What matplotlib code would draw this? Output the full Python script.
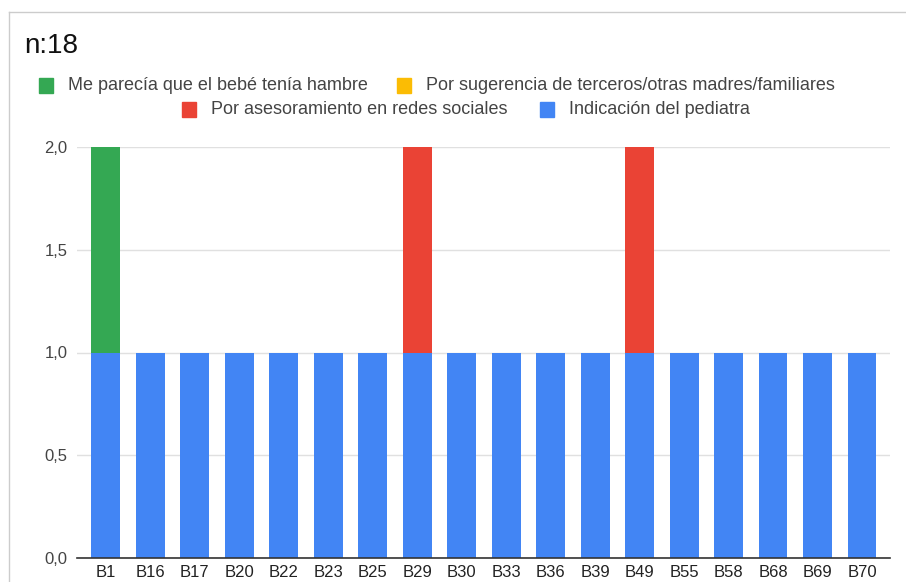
import matplotlib
matplotlib.use('Agg')
import matplotlib.pyplot as plt
import numpy as np
from matplotlib.patches import Rectangle
from matplotlib.lines import Line2D

plt.rcParams['font.family'] = ['Liberation Sans', 'DejaVu Sans']

# Data
categories = ['B1', 'B16', 'B17', 'B20', 'B22', 'B23', 'B25', 'B29', 'B30',
              'B33', 'B36', 'B39', 'B49', 'B55', 'B58', 'B68', 'B69', 'B70']
pediatra = [1, 1, 1, 1, 1, 1, 1, 1, 1, 1, 1, 1, 1, 1, 1, 1, 1, 1]
redes = [0, 0, 0, 0, 0, 0, 0, 1, 0, 0, 0, 0, 1, 0, 0, 0, 0, 0]
terceros = [0] * 18
hambre = [1, 0, 0, 0, 0, 0, 0, 0, 0, 0, 0, 0, 0, 0, 0, 0, 0, 0]

series_names = ['Me parecía que el bebé tenía hambre',
                'Por sugerencia de terceros/otras madres/familiares',
                'Por asesoramiento en redes sociales',
                'Indicación del pediatra']
colors = ['#34a853', '#fbbc04', '#ea4335', '#4285f4']

fig = plt.figure(figsize=(9.06, 5.82), dpi=100)
W, H = 906, 582
ax = fig.add_axes([77 / W, 1 - 558 / H, (890 - 77) / W, (558 - 147) / H])

x = np.arange(len(categories))
bw = 0.65
# stacked bottom-up: pediatra, redes, terceros, hambre
stack = [(pediatra, colors[3]), (redes, colors[2]), (terceros, colors[1]), (hambre, colors[0])]
bottom = np.zeros(len(categories))
for vals, c in stack:
    vals = np.array(vals, dtype=float)
    ax.bar(x, vals, bw, bottom=bottom, color=c, zorder=2)
    bottom += vals

ax.set_xlim(-0.65, len(categories) - 1 + 0.63)
ax.set_ylim(0, 2)
ax.set_yticks([0, 0.5, 1.0, 1.5, 2.0])
ax.set_yticklabels(['0,0', '0,5', '1,0', '1,5', '2,0'], color='#444444', fontsize=12)
ax.set_xticks(x)
ax.set_xticklabels(categories, color='#222222', fontsize=12)
ax.tick_params(axis='y', length=0, pad=7)
ax.tick_params(axis='x', length=0, pad=5)
ax.grid(axis='y', color='#e0e0e0', linewidth=1, zorder=0)
for s in ['top', 'right', 'left']:
    ax.spines[s].set_visible(False)
ax.spines['bottom'].set_color('#333333')
ax.spines['bottom'].set_linewidth(1.2)

# card border
fig.add_artist(Line2D([9 / W, 1], [1 - 12 / H, 1 - 12 / H], color='#cccccc', lw=1, transform=fig.transFigure))
fig.add_artist(Line2D([9 / W, 9 / W], [0, 1 - 12 / H], color='#cccccc', lw=1, transform=fig.transFigure))

fig.text(24 / W, 1 - 46 / H, 'n:18', fontsize=20, color='#111111', va='center', ha='left')

# legend, two centred rows
legend_items = [(39, 86, 0), (397, 86, 1), (182, 110, 2), (540, 110, 3)]
for lx, ly, i in legend_items:
    fig.add_artist(Rectangle((lx / W, 1 - (ly + 7) / H), 14 / W, 15 / H,
                             color=colors[i], transform=fig.transFigure))
    fig.text((lx + 29) / W, 1 - ly / H, series_names[i], fontsize=13,
             color='#444444', va='center', ha='left')

fig.savefig('out.png', dpi=100)
